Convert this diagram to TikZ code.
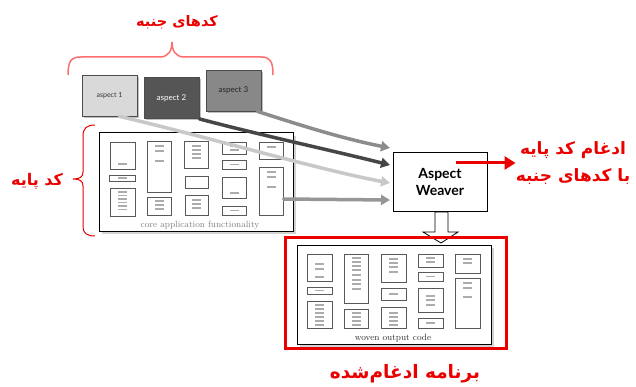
\documentclass[tikz,border=0pt]{standalone}
\usepackage{fontspec}
\usetikzlibrary{arrows.meta,shadows,calc}
\TeXXeTstate=1
\newfontfamily\arabicfont[Script=Arabic]{DejaVu Sans Bold}
\newfontfamily\latofont{Lato}
\definecolor{tred}{RGB}{235,0,0}
\definecolor{pbrace}{RGB}{255,110,110}
\tikzset{
  fa/.style={text=tred, inner sep=0pt},
  inbox/.style={draw=gray!70!black, line width=0.6pt, fill=white},
  bar/.style={fill=gray!65},
  aspbox/.style={draw=gray!60!black, line width=0.8pt, minimum width=55pt, minimum height=41pt, inner sep=0pt,
     font=\latofont\fontsize{8}{8}\selectfont,
     drop shadow={shadow xshift=2pt, shadow yshift=-2pt, opacity=0.5}},
  bigbox/.style={draw=black, line width=1pt, fill=white, inner sep=0pt,
     drop shadow={shadow xshift=3pt, shadow yshift=-3pt, opacity=0.35}},
  flow/.style={line width=3.5pt, -{Triangle[width=10pt,length=9pt]}, line cap=round},
}
\newcommand\mybx[5]{%
  \draw[inbox] (#1,#2) rectangle (#3,#4);
  \foreach \b in {#5} {\fill[bar] ({(#1+#3)/2-4.5},{\b-0.8}) rectangle ({(#1+#3)/2+4.5},{\b+0.8});}}
\begin{document}
\begin{tikzpicture}[x=1pt,y=-1pt]
\useasboundingbox (0,0) rectangle (636,387);
\fill[white] (0,0) rectangle (636,387);

% titles
\node[fa, font=\arabicfont\fontsize{14.5}{15}\selectfont] (tAsp) at (177,22) {\beginR کدهای جنبه\endR};
\node[fa, font=\arabicfont\fontsize{16}{16}\selectfont] (tBase) at (37,181) {\beginR کد پایه\endR};
\node[fa, font=\arabicfont\fontsize{17}{17}\selectfont, align=center] (tMerge) at (573,163)
  {\beginR ادغام کد پایه\endR\\[9pt]\beginR با کدهای جنبه\endR};
\node[fa, font=\arabicfont\fontsize{18.5}{19}\selectfont] (tOut) at (405,374) {\beginR برنامه ادغام‌شده\endR};

% top brace
\draw[pbrace, line width=1.5pt] (68,75) .. controls (68,61) and (71,57) .. (81,57) -- (160,57)
  .. controls (168,57) and (172,51) .. (172,42) .. controls (172,51) and (176,57) .. (184,57)
  -- (261,57) .. controls (270,57) and (273,61) .. (273,75);
% left brace
\draw[tred, line width=1pt] (95,125) .. controls (87,125) and (83,128) .. (83,136) -- (83,172)
  .. controls (83,177) and (80,179) .. (73,179) .. controls (80,179) and (83,181) .. (83,186)
  -- (83,227) .. controls (83,233) and (87,236) .. (95,236);

% aspect boxes
\node[aspbox, fill=gray!30, text=black!80, font=\latofont\fontsize{7}{7}\selectfont] (a1) at (109.5,95.5) {aspect 1};
\node[aspbox, fill={rgb,255:red,85;green,85;blue,85}, text=white] (a2) at (171.5,98) {aspect 2};
\node[aspbox, fill={rgb,255:red,136;green,136;blue,136}, text=black!85] (a3) at (233.5,90.5) {aspect 3};

% core box
\node[bigbox, minimum width=194pt, minimum height=98pt] (core) at (196,182) {};
\node[text=gray, font=\fontsize{9}{9}\selectfont, inner sep=0pt] (coreL) at (200,225) {core application functionality};
\mybx{110}{142}{135}{169}{164}
\mybx{109}{175}{135}{181}{178}
\mybx{110}{188}{135}{216}{192,195.5,199,202.5,206,209.5}
\mybx{147}{141}{171}{192}{146,151,161}
\mybx{147}{197}{171}{215}{201,205,209}
\mybx{184}{141}{208}{168}{146,150,154,158}
\draw[inbox] (185,176) rectangle (208,188);
\mybx{185}{195}{208}{215}{200,204,208}
\mybx{222}{142}{246}{154}{146,150}
\mybx{222}{160}{246}{169}{164.5}
\mybx{222}{177}{246}{198}{193}
\mybx{222}{206}{246}{215}{210.5}
\mybx{259}{142}{283}{159}{147}
\mybx{259}{167}{283}{215}{172,177,187}

% weaver
\node[draw=black, line width=0.8pt, fill=white, minimum width=94pt, minimum height=59pt, inner sep=0pt, align=center,
  font=\latofont\bfseries\fontsize{14}{17}\selectfont] (weaver) at (440,181.5) {Aspect\\Weaver};

% flow arrows
\coordinate (t3) at (390,148);
\coordinate (t2) at (390,165);
\coordinate (t1) at (390,183);
\coordinate (t0) at (390,200);
\draw[flow, draw={rgb,255:red,140;green,140;blue,140}] (a3.south east) ++(-4,0) .. controls (300,125) and (340,138) .. (t3);
\draw[flow, draw={rgb,255:red,70;green,70;blue,70}] (a2.south east) .. controls (260,135) and (330,150) .. (t2);
\draw[flow, draw={rgb,255:red,200;green,200;blue,200}] ([xshift=10pt]a1.south) .. controls (200,135) and (320,170) .. (t1);
\draw[flow, draw={rgb,255:red,150;green,150;blue,150}] ([yshift=-17pt]core.east) ++(-10,0) -- (t0);

% red merge arrow
\coordinate (mstart) at (456,163);
\draw[tred, line width=3pt, -{Triangle[width=13pt,length=11pt]}] (mstart) -- (tMerge.west |- mstart);

% down block arrow
\draw[black, line width=0.8pt, fill=white] (435,212) -- (448,212) -- (448,232) -- (458,232) -- (441,243) -- (423,232) -- (435,232) -- cycle;

% woven output
\node[bigbox, minimum width=194pt, minimum height=99pt] (woven) at (394,294.5) {};
\node[text=black!80, font=\fontsize{9}{9}\selectfont, inner sep=0pt] (wovenL) at (393,338) {woven output code};
\mybx{307}{254}{332}{281}{264,269,277}
\mybx{307}{287}{332}{294}{290.5}
\mybx{307}{301}{332}{328}{305,309,313,317,321,325}
\mybx{344}{254}{368}{303}{258,262,266,270,275,280,284,289}
\mybx{344}{309}{368}{328}{313,317,321,325}
\mybx{381}{254}{406}{282}{259,263,267,272}
\mybx{381}{288}{406}{300}{294}
\mybx{381}{307}{406}{328}{313,317,321,325}
\mybx{418}{254}{443}{267}{258,262}
\mybx{418}{272}{443}{281}{276.5}
\mybx{418}{288}{443}{312}{296,300,305}
\mybx{418}{318}{443}{328}{323}
\mybx{455}{254}{480}{273}{259,263}
\mybx{455}{278}{480}{328}{283,288,297}

% red frame
\draw[tred, line width=3pt] (285,237) rectangle (506,348);
\end{tikzpicture}
\end{document}
